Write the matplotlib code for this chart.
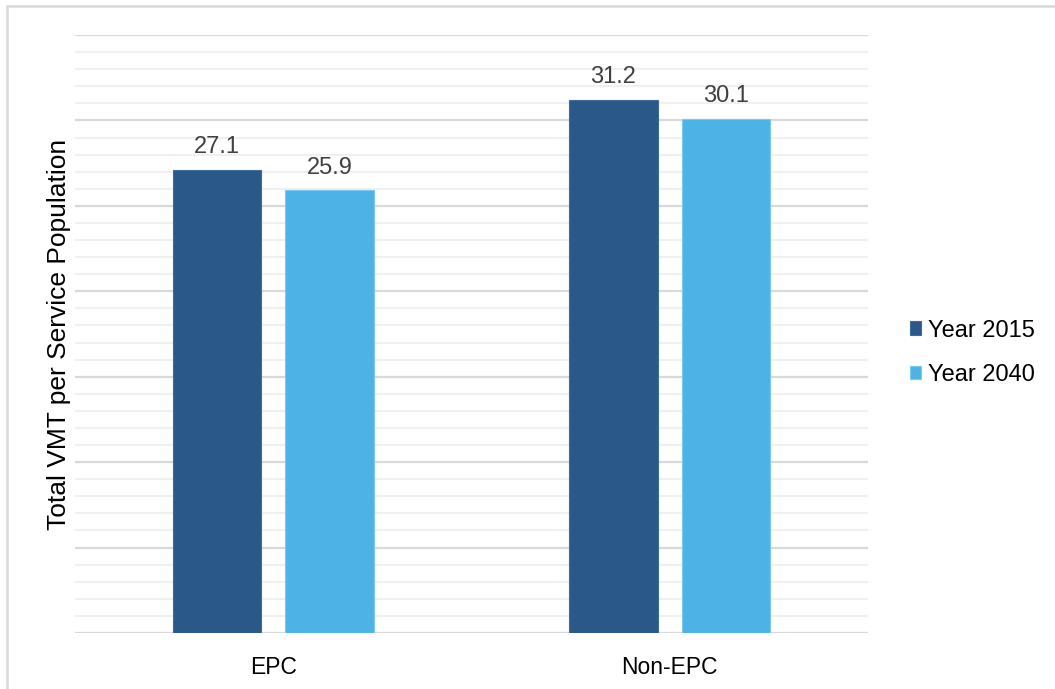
import matplotlib.pyplot as plt
import numpy as np
from matplotlib.patches import Rectangle
from matplotlib.ticker import MultipleLocator

plt.rcParams['font.family'] = ['Liberation Sans', 'DejaVu Sans']

categories = ['EPC', 'Non-EPC']
series = ['Year 2015', 'Year 2040']
vmt_2015 = [27.1, 31.2]
vmt_2040 = [25.9, 30.1]
colors = ['#2a5889', '#4db3e6']
edges = ['#3e6c9e', '#7cc9ef']

fig = plt.figure(figsize=(10.55, 6.89), dpi=100)
ax = fig.add_axes([0.0711, 0.0813, 0.7516, 0.8679])

x = np.arange(len(categories))
width = 0.224
offset = 0.142
for vals, off, c, ec, lab in zip([vmt_2015, vmt_2040], [-offset, offset], colors, edges, series):
    bars = ax.bar(x + off, vals, width, color=c, edgecolor=ec, linewidth=0.8, label=lab, zorder=3)
    for b, v in zip(bars, vals):
        ax.annotate(f'{v:.1f}', (b.get_x() + b.get_width() / 2, v), xytext=(0, 12),
                    textcoords='offset points', ha='center', va='baseline',
                    fontsize=17, color='#404040')

ax.set_xlim(-0.5, 1.5)
ax.set_ylim(0, 35)
ax.yaxis.set_major_locator(MultipleLocator(5))
ax.yaxis.set_minor_locator(MultipleLocator(1))
ax.grid(axis='y', which='major', color='#d9d9d9', lw=1.6, zorder=0)
ax.grid(axis='y', which='minor', color='#f0f0f0', lw=1.6, zorder=0)
ax.set_axisbelow(True)
for s in ax.spines.values():
    s.set_visible(False)
ax.tick_params(axis='y', which='both', left=False, labelleft=False)
ax.tick_params(axis='x', bottom=False, pad=13, labelsize=16.5)
ax.set_xticks(x)
ax.set_xticklabels(categories)
ax.set_ylabel('Total VMT per Service Population', fontsize=19, labelpad=3)

ax.legend(loc='center left', bbox_to_anchor=(0.851, 0.488), bbox_transform=fig.transFigure,
          frameon=False, fontsize=17, handlelength=0.5, handleheight=0.5,
          handletextpad=0.3, labelspacing=0.95, borderpad=0)

# light frame around the chart area
fig.patches.append(Rectangle((7 / 1055, -0.1), 1.2, 1.1 - 6 / 689, transform=fig.transFigure,
                             fill=False, edgecolor='#d9d9d9', lw=1.8))

plt.savefig('out.png', dpi=100)
